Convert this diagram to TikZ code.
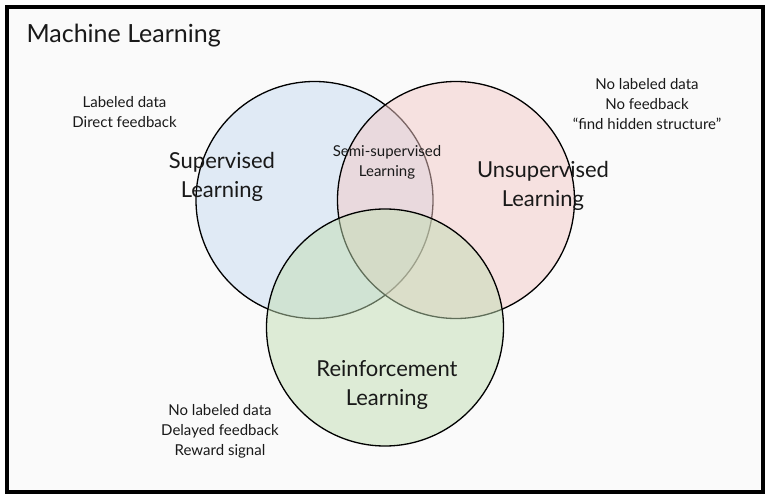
\documentclass[tikz,border=0pt]{standalone}
\usepackage{fontspec}
\setmainfont{Lato}
\definecolor{bgGray}{HTML}{FAFAFA}
\definecolor{supBlue}{RGB}{199,219,241}
\definecolor{unsRed}{RGB}{243,201,199}
\definecolor{reinGreen}{RGB}{193,221,179}
\tikzset{
	note/.style={align=center, text=black!90, font=\fontsize{15}{20}\selectfont},
	big/.style={align=center, text=black!90, font=\fontsize{22}{29}\selectfont}
}

\begin{document}
\begin{tikzpicture}[x=1pt, y=-1pt]
		\useasboundingbox (0,0) rectangle (769,500);
		\draw[line width=4pt, fill=bgGray] (7,7.5) rectangle (763,492);
		% blue, red, green in that order, each one over the last
		\foreach \x/\y/\c in {314.5/200/supBlue, 456/200/unsRed, 385/327.5/reinGreen}{
				\draw[fill=\c, fill opacity=0.5, line width=1.3pt] (\x,\y) circle (118.5pt);
			}
		\node[anchor=base west, text=black!90, font=\fontsize{25}{30}\selectfont] (title) at (23,43) {Machine Learning};
		\node[big] (sup) at (222,177) {Supervised\\Learning};
		\node[big] (uns) at (543,186) {Unsupervised\\Learning};
		\node[big] (rein) at (387,385) {Reinforcement\\Learning};
		\node[note] (semi) at (387,162) {Semi-supervised\\Learning};
		\node[note] (supNote) at (124.5,112.5) {Labeled data\\Direct feedback};
		\node[note] (unsNote) at (647,104) {No labeled data\\No feedback\\“find hidden structure”};
		\node[note] (reinNote) at (220,431.5) {No labeled data\\Delayed feedback\\Reward signal};
	\end{tikzpicture}
\end{document}
